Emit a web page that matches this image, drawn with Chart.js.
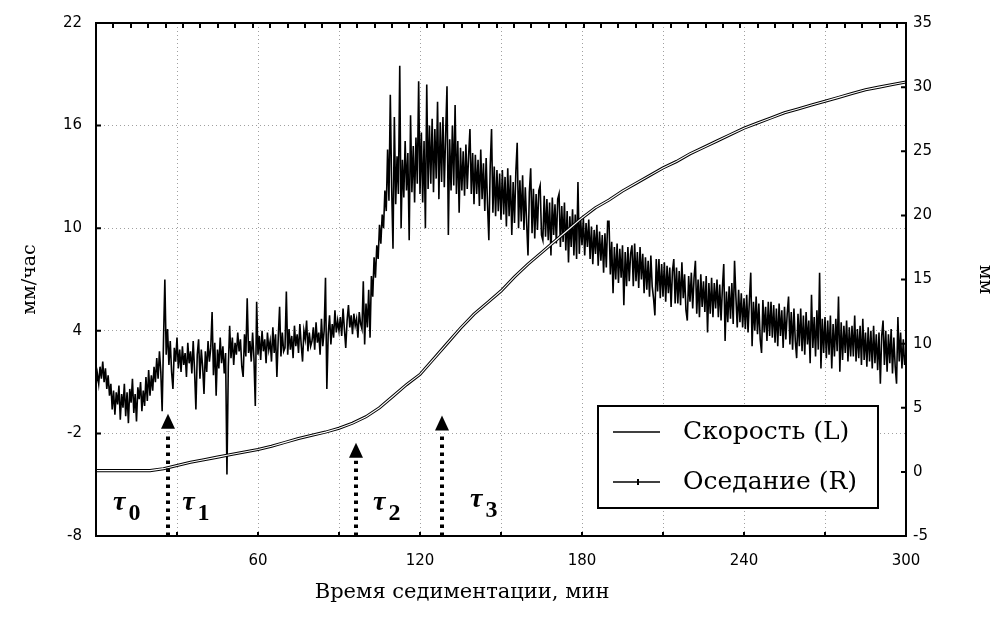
<!DOCTYPE html>
<html>
<head>
  <meta charset="utf-8" />
  <title>Скорость и оседание</title>
  <script src="https://cdn.jsdelivr.net/npm/chart.js"></script>
  <style>
    html, body { margin: 0; padding: 0; background: #ffffff; }
    #wrap { width: 999px; height: 623px; }
  </style>
</head>
<body>
  <div id="wrap"><canvas id="chart" width="999" height="623"></canvas></div>
  <script>
    // speed samples, one every 0.5 min (мм/час, left axis)
    const timeStep = 0.5;
    const speed0to60 = [
      0.8, 1.5, 0.9, 1.9, 1.2, 2.2, 1.0, 1.8, 0.6, 1.4, 0.2, 0.9, -0.6, 0.5, -0.9, 0.4, -0.3, 0.8, -1.2, 0.3,
      -0.5, 0.9, -1.0, 0.4, -1.4, 0.6, -0.2, 1.2, -0.8, 0.3, -1.3, 0.7, 0.0, 1.0, -0.7, 0.5, -0.4, 1.3, -0.1, 1.7,
      0.2, 1.4, 0.5, 1.9, 1.0, 2.4, 1.2, 2.8, 1.6, -0.7, 3.4, 7.0, 2.6, 4.1, 2.0, 3.4, 1.6, 0.6, 3.0, 2.2,
      3.6, 1.8, 2.9, 1.6, 3.1, 2.0, 2.7, 1.3, 3.3, 2.1, 2.8, 1.5, 3.4, 1.7, -0.6, 2.6, 3.5, 1.2, 2.9, 1.9,
      0.3, 2.8, 1.6, 3.4, 2.2, 3.0, 5.1, 1.4, 3.3, 0.2, 2.9, 1.8, 3.6, 2.1, 3.1, 1.5, 2.7, -4.4, 1.9, 4.3,
      2.4, 3.6, 2.0, 3.3, 2.6, 3.9, 2.8, 3.5, 1.9, 1.3, 3.8, 2.5, 5.9, 2.7, 3.4, 2.2, 3.9, 2.4, -0.4, 5.7
    ];
    const speed60to120 = [
      2.6, 3.7, 2.3, 4.0, 2.8, 3.5, 2.1, 3.9, 2.9, 3.4, 2.2, 4.2, 2.7, 3.8, 1.3, 3.6, 5.4, 2.5, 3.9, 2.8,
      3.0, 6.3, 2.6, 4.1, 2.9, 3.7, 2.4, 4.3, 3.1, 3.8, 2.7, 4.4, 3.2, 2.2, 4.0, 3.5, 4.6, 2.8, 3.9, 3.1,
      3.4, 4.2, 2.9, 4.5, 3.3, 3.9, 2.6, 4.7, 3.1, 4.0, 7.1, 0.6, 3.8, 4.9, 3.2, 4.4, 3.6, 5.2, 3.9, 4.6,
      4.0, 4.8, 3.7, 5.3, 4.1, 3.0, 4.6, 5.5, 4.2, 4.9, 3.8, 5.0, 4.3, 4.7, 3.6, 5.1, 4.4, 4.1, 6.9, 3.2,
      5.6, 4.2, 6.4, 3.6, 7.2, 6.0, 8.3, 7.1, 9.0, 8.2, 10.2, 9.1, 10.8, 10.0, 12.2, 11.0, 14.6, 11.6, 17.8, 12.4,
      8.8, 16.5, 11.4, 14.2, 12.0, 19.5, 10.0, 14.0, 11.8, 15.1, 12.2, 14.4, 9.3, 16.6, 12.1, 14.8, 11.5, 15.3, 12.6, 18.6
    ];
    const speed120to180 = [
      12.0, 15.6, 11.5, 15.1, 10.0, 18.4, 12.3, 16.0, 12.6, 16.4, 12.1, 15.8, 12.9, 17.4, 11.7, 16.2, 12.7, 16.5, 12.4, 15.5,
      18.3, 9.6, 15.2, 12.2, 16.0, 12.5, 17.2, 12.0, 15.1, 10.9, 14.7, 12.2, 14.5, 11.9, 14.9, 12.3, 14.2, 15.8, 12.0, 14.4,
      11.4, 14.3, 12.0, 14.0, 11.3, 14.6, 11.7, 13.8, 11.0, 14.1, 11.4, 9.3, 13.6, 15.8, 10.9, 13.6, 10.7, 13.4, 11.0, 13.2,
      10.5, 13.4, 10.8, 13.0, 10.1, 13.5, 10.7, 13.1, 9.6, 12.7, 10.3, 13.3, 15.0, 10.0, 12.8, 10.4, 13.1, 9.9, 12.4, 10.3,
      8.4, 12.1, 13.5, 9.7, 12.3, 9.4, 12.0, 9.9, 12.2, 12.5, 9.6, 9.3, 11.9, 9.5, 11.7, 9.3, 11.5, 8.4, 11.8, 9.6,
      11.4, 9.1, 11.7, 12.0, 8.9, 11.3, 9.2, 11.5, 8.7, 11.0, 8.0, 10.7, 8.9, 11.1, 8.4, 10.8, 8.2, 12.7, 8.5, 10.6
    ];
    const speed180to240 = [
      9.0, 10.6, 8.4, 10.3, 8.9, 10.5, 8.2, 10.1, 7.9, 9.9, 8.5, 10.2, 7.8, 9.8, 8.1, 9.6, 7.4, 9.7, 7.7, 10.4,
      10.4, 7.3, 9.2, 6.2, 8.9, 7.0, 9.1, 6.8, 8.8, 7.1, 9.0, 5.5, 8.6, 6.6, 8.9, 6.9, 8.5, 9.0, 6.6, 9.1,
      6.9, 8.6, 6.5, 8.9, 7.0, 8.5, 6.2, 8.3, 6.4, 8.1, 6.0, 8.4, 6.6, 5.9, 4.9, 8.2, 6.3, 8.2, 5.9, 7.9,
      6.0, 8.0, 5.7, 7.8, 6.2, 7.7, 5.4, 7.5, 8.2, 5.6, 7.7, 5.6, 7.5, 5.5, 8.0, 5.9, 7.3, 5.2, 4.6, 7.2,
      5.7, 7.4, 5.3, 7.1, 8.1, 5.0, 7.0, 4.8, 7.3, 5.4, 6.9, 5.1, 7.2, 3.9, 6.8, 5.0, 7.1, 4.8, 6.8, 5.3,
      7.0, 4.8, 6.7, 4.6, 6.5, 7.9, 3.4, 6.3, 4.5, 6.6, 4.7, 6.8, 4.4, 8.1, 6.0, 4.2, 6.4, 4.5, 6.2, 4.2
    ];
    const speed240to300 = [
      5.9, 4.1, 6.1, 3.9, 5.8, 7.4, 3.1, 5.7, 4.0, 6.0, 3.8, 5.6, 3.5, 2.7, 5.8, 3.9, 5.4, 3.4, 5.7, 3.7,
      5.7, 3.6, 5.5, 3.3, 5.3, 3.1, 5.6, 3.7, 5.2, 3.0, 5.4, 3.5, 5.0, 6.0, 3.2, 5.1, 2.9, 5.3, 3.4, 2.4,
      5.0, 3.1, 5.3, 2.8, 4.9, 2.6, 5.1, 3.2, 4.6, 2.1, 6.1, 3.0, 4.8, 2.5, 5.2, 2.9, 7.4, 1.8, 4.7, 2.7,
      4.8, 2.4, 4.6, 2.6, 4.9, 1.8, 4.4, 2.5, 4.7, 2.8, 6.0, 1.6, 4.5, 2.3, 4.3, 2.7, 4.6, 2.2, 4.2, 2.5,
      4.3, 2.5, 4.9, 2.2, 4.1, 2.4, 4.3, 2.0, 4.7, 2.3, 3.9, 1.9, 4.2, 2.2, 4.0, 1.8, 4.3, 2.1, 3.8, 1.7,
      3.9, 0.9, 3.7, 4.6, 2.0, 4.0, 1.6, 3.8, 2.1, 4.1, 1.5, 3.6, 1.9, 0.9, 4.8, 2.2, 3.9, 1.8, 3.5, 2.0,
      2.7
    ];

    // settlement, every 5 min (мм, right axis)
    const settleTimes = [
      0, 5, 10, 15, 20, 25, 30, 35, 40, 45, 50, 55, 60, 65, 70, 75, 80, 85, 90, 95,
      100, 105, 110, 115, 120, 125, 130, 135, 140, 145, 150, 155, 160, 165, 170, 175, 180, 185, 190, 195,
      200, 205, 210, 215, 220, 225, 230, 235, 240, 245, 250, 255, 260, 265, 270, 275, 280, 285, 290, 295, 300
    ];
    const settleValues = [
      0.1, 0.1, 0.1, 0.1, 0.1, 0.25, 0.5, 0.75, 0.95, 1.15, 1.35, 1.55, 1.75, 2.0, 2.3, 2.6, 2.85, 3.1, 3.4, 3.8,
      4.3, 5.0, 5.9, 6.8, 7.6, 8.8, 10.0, 11.2, 12.3, 13.2, 14.1, 15.2, 16.2, 17.1, 18.0, 18.9, 19.8, 20.6, 21.2, 21.9,
      22.5, 23.1, 23.7, 24.2, 24.8, 25.3, 25.8, 26.3, 26.8, 27.2, 27.6, 28.0, 28.3, 28.6, 28.9, 29.2, 29.5, 29.8, 30.0, 30.2, 30.4
    ];

    // axis ticks
    const leftTicks = [-8, -2, 4, 10, 16, 22];
    const rightTicks = [-5, 0, 5, 10, 15, 20, 25, 30, 35];
    const timeLabels = [60, 120, 180, 240, 300];

    // stage marks: τ labels and arrows (minutes / left-axis units)
    const tauNames = ['0', '1', '2', '3'];
    const tauTimes = [6.3, 31.9, 102.6, 138.5];
    const tauLevels = [-6.5, -6.5, -6.5, -6.3];
    const arrowTimes = [26.7, 96.2, 128.0];
    const arrowTops = [-0.85, -2.55, -0.95];

    const speedValues = [].concat(speed0to60, speed60to120, speed120to180, speed180to240, speed240to300);
    const speedPoints = speedValues.map((v, i) => ({ x: i * timeStep, y: v }));
    const settlePoints = settleValues.map((v, i) => ({ x: settleTimes[i], y: v }));

    const serif = '"DejaVu Serif", "Liberation Serif", serif';
    const sans = '"DejaVu Sans", "Liberation Sans", sans-serif';
    const topTickStep = 6.45;
    const legendItems = ['Скорость (L)', 'Оседание (R)'];

    const decor = {
      id: 'decor',
      afterDraw(chart) {
        const { ctx, chartArea: a, scales } = chart;
        const x = scales.x, yL = scales.y, yR = scales.y1;
        ctx.save();
        // frame
        ctx.strokeStyle = '#000';
        ctx.lineWidth = 2;
        ctx.strokeRect(a.left, a.top, a.right - a.left, a.bottom - a.top);
        // inner tick marks
        ctx.beginPath();
        leftTicks.forEach(v => { const py = yL.getPixelForValue(v); ctx.moveTo(a.left, py); ctx.lineTo(a.left + 5, py); });
        rightTicks.forEach(v => { const py = yR.getPixelForValue(v); ctx.moveTo(a.right, py); ctx.lineTo(a.right - 5, py); });
        for (let t = 30; t < 300; t += 30) { const px = x.getPixelForValue(t); ctx.moveTo(px, a.bottom); ctx.lineTo(px, a.bottom - 4); }
        for (let t = topTickStep; t < 300; t += topTickStep) { const px = Math.round(x.getPixelForValue(t)); ctx.moveTo(px, a.top); ctx.lineTo(px, a.top + 5); }
        ctx.stroke();

        // dotted arrows
        ctx.fillStyle = '#000';
        arrowTimes.forEach((t, i) => {
          const px = Math.round(x.getPixelForValue(t));
          const tip = yL.getPixelForValue(arrowTops[i]);
          ctx.save();
          ctx.lineWidth = 4;
          ctx.setLineDash([3.5, 4.5]);
          ctx.beginPath();
          ctx.moveTo(px, a.bottom);
          ctx.lineTo(px, tip + 18);
          ctx.stroke();
          ctx.restore();
          ctx.beginPath();
          ctx.moveTo(px, tip);
          ctx.lineTo(px - 7, tip + 15);
          ctx.lineTo(px + 7, tip + 15);
          ctx.closePath();
          ctx.fill();
        });

        // τ labels
        ctx.textBaseline = 'alphabetic';
        ctx.textAlign = 'left';
        tauNames.forEach((n, i) => {
          const px = x.getPixelForValue(tauTimes[i]);
          const py = yL.getPixelForValue(tauLevels[i]);
          ctx.font = 'bold italic 28px "Liberation Serif", serif';
          ctx.fillText('τ', px, py);
          const w = ctx.measureText('τ').width;
          ctx.font = 'bold 24px "Liberation Serif", serif';
          ctx.fillText(n, px + w + 3, py + 10);
        });

        // legend
        const bx = a.right - 308, by = a.bottom - 130, bw = 280, bh = 102;
        ctx.fillStyle = '#fff';
        ctx.fillRect(bx, by, bw, bh);
        ctx.strokeStyle = '#000';
        ctx.lineWidth = 2;
        ctx.strokeRect(bx, by, bw, bh);
        ctx.lineWidth = 1.5;
        ctx.fillStyle = '#000';
        ctx.font = '25px ' + serif;
        ctx.textBaseline = 'middle';
        legendItems.forEach((lab, i) => {
          const ly = by + 26 + i * 50;
          ctx.beginPath();
          ctx.moveTo(bx + 15, ly);
          ctx.lineTo(bx + 62, ly);
          ctx.stroke();
          if (i === 1) ctx.fillRect(bx + 39, ly - 3, 2, 6);
          ctx.fillText(lab, bx + 85, ly);
        });

        // x axis title
        ctx.font = '21px ' + serif;
        ctx.textAlign = 'center';
        ctx.textBaseline = 'alphabetic';
        ctx.fillText('Время седиментации, мин', a.left + (a.right - a.left) * 0.452, 598);
        ctx.restore();
      }
    };

    new Chart(document.getElementById('chart'), {
      type: 'line',
      data: {
        datasets: [
          { label: 'Оседание (R) core', data: settlePoints, yAxisID: 'y1', borderColor: '#fff', borderWidth: 1.1, pointRadius: 0, order: 0 },
          { label: 'Оседание (R)', data: settlePoints, yAxisID: 'y1', borderColor: '#000', borderWidth: 3.1, pointRadius: 0, order: 1 },
          { label: 'Скорость (L)', data: speedPoints, yAxisID: 'y', borderColor: '#000', borderWidth: 1.6, pointRadius: 0, order: 2 }
        ]
      },
      options: {
        responsive: false,
        animation: false,
        events: [],
        layout: { padding: { top: 19, left: 0, right: 0, bottom: 0 } },
        plugins: { legend: { display: false }, tooltip: { enabled: false } },
        scales: {
          x: {
            type: 'linear', min: 0, max: 300,
            afterFit: s => { s.height = 87; },
            grid: { color: '#a0a0a0', lineWidth: 1, drawTicks: false },
            border: { display: false, dash: [1, 3] },
            ticks: {
              stepSize: 30, padding: 16, color: '#000', maxRotation: 0,
              font: { family: sans, size: 15 },
              callback: v => timeLabels.includes(v) ? String(v) : ''
            }
          },
          y: {
            position: 'left', min: -8, max: 22,
            afterFit: s => { s.width = 96; },
            afterBuildTicks: s => { s.ticks = leftTicks.map(v => ({ value: v })); },
            grid: { color: '#a0a0a0', lineWidth: 1, drawTicks: false },
            border: { display: false, dash: [1, 3] },
            ticks: { padding: 14, color: '#000', font: { family: sans, size: 15 } },
            title: { display: true, text: 'мм/час', color: '#000', font: { family: serif, size: 19 }, padding: { top: 19, bottom: 0 } }
          },
          y1: {
            position: 'right', min: -5, max: 35,
            afterFit: s => { s.width = 93; },
            afterBuildTicks: s => { s.ticks = rightTicks.map(v => ({ value: v })); },
            grid: { drawOnChartArea: false, drawTicks: false },
            border: { display: false },
            ticks: { padding: 7, color: '#000', font: { family: sans, size: 15 } },
            title: { display: true, text: 'мм', color: '#000', font: { family: serif, size: 19 }, padding: { top: 3, bottom: 0 } }
          }
        }
      },
      plugins: [decor]
    });
  </script>
</body>
</html>
